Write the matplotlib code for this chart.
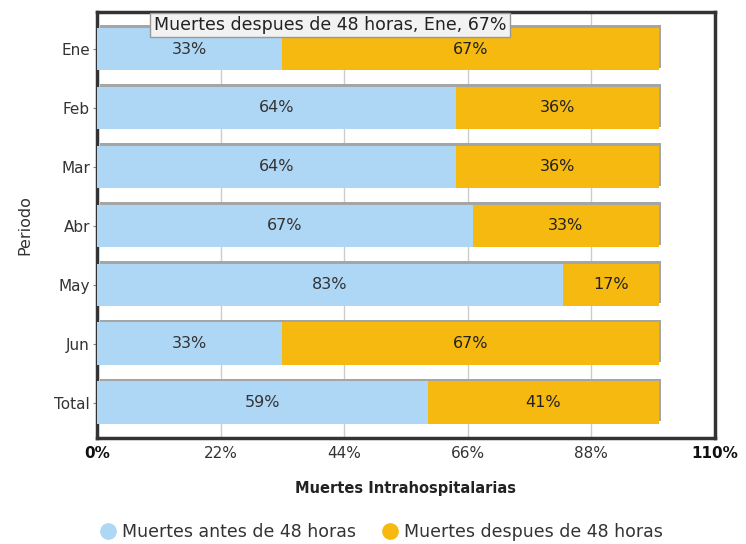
import numpy as np
import matplotlib.pyplot as plt
from matplotlib.lines import Line2D
import matplotlib.patheffects as pe

periodos = ['Ene', 'Feb', 'Mar', 'Abr', 'May', 'Jun', 'Total']
antes = [33, 64, 64, 67, 83, 33, 59]
despues = [67, 36, 36, 33, 17, 67, 41]
xticks = [0, 22, 44, 66, 88, 110]
xtick_labels = ['0%', '22%', '44%', '66%', '88%', '110%']

c_antes = '#AED6F5'
c_despues = '#F5B90F'

fig = plt.figure(figsize=(7.46, 5.44), dpi=100)
ax = fig.add_axes([0.130, 0.195, 0.828, 0.783])

y = np.arange(len(periodos))
shadow = [pe.SimplePatchShadow(offset=(2, 1.8), shadow_rgbFace='#A5A5A5', alpha=1), pe.Normal()]
b1 = ax.barh(y, antes, height=0.72, color=c_antes, zorder=3, path_effects=shadow)
b2 = ax.barh(y, despues, left=antes, height=0.72, color=c_despues, zorder=3, path_effects=shadow)

for i in range(len(periodos)):
    ax.text(antes[i] / 2, y[i], f'{antes[i]}%', ha='center', va='center',
            fontsize=11.5, color='#333333', zorder=5)
    ax.text(antes[i] + despues[i] / 2, y[i], f'{despues[i]}%', ha='center', va='center',
            fontsize=11.5, color='#222222', zorder=5)

ax.set_xlim(0, 110)
ax.set_ylim(6.6, -0.63)
ax.set_xticks(xticks)
ax.set_xticklabels(xtick_labels, fontsize=11, color='#333333')
for lbl in (ax.get_xticklabels()[0], ax.get_xticklabels()[-1]):
    lbl.set_fontweight('bold')
    lbl.set_color('#111111')
ax.set_yticks(y)
ax.set_yticklabels(periodos, fontsize=11, color='#333333')
ax.tick_params(axis='x', length=0, pad=6)
ax.tick_params(axis='y', length=3, color='#888888', pad=2)
ax.grid(axis='x', color='#CCCCCC', linewidth=1, zorder=0)

for s in ax.spines.values():
    s.set_linewidth(2.5)
    s.set_color('#333333')

ax.set_xlabel('Muertes Intrahospitalarias', fontsize=10.5, fontweight='bold', color='#222222', labelpad=14)
ax.set_ylabel('Periodo', fontsize=11.5, color='#333333', labelpad=16)

handles = [Line2D([], [], marker='o', linestyle='', markersize=11, color=c_antes),
           Line2D([], [], marker='o', linestyle='', markersize=11, color=c_despues)]
fig.legend(handles, ['Muertes antes de 48 horas', 'Muertes despues de 48 horas'],
           loc='center', bbox_to_anchor=(0.505, 0.022), ncol=2, frameon=False,
           fontsize=12.5, handletextpad=-0.2, columnspacing=1.0, labelcolor='#333333')

# tooltip
fig.text(330 / 746, 1 - 25 / 544, 'Muertes despues de 48 horas, Ene, 67%',
         ha='center', va='center', fontsize=12.5, color='#222222', zorder=10,
         bbox=dict(boxstyle='square,pad=0.2', facecolor='#F2F2F2', edgecolor='#999999', linewidth=1))

fig.savefig('out.png', dpi=100)
